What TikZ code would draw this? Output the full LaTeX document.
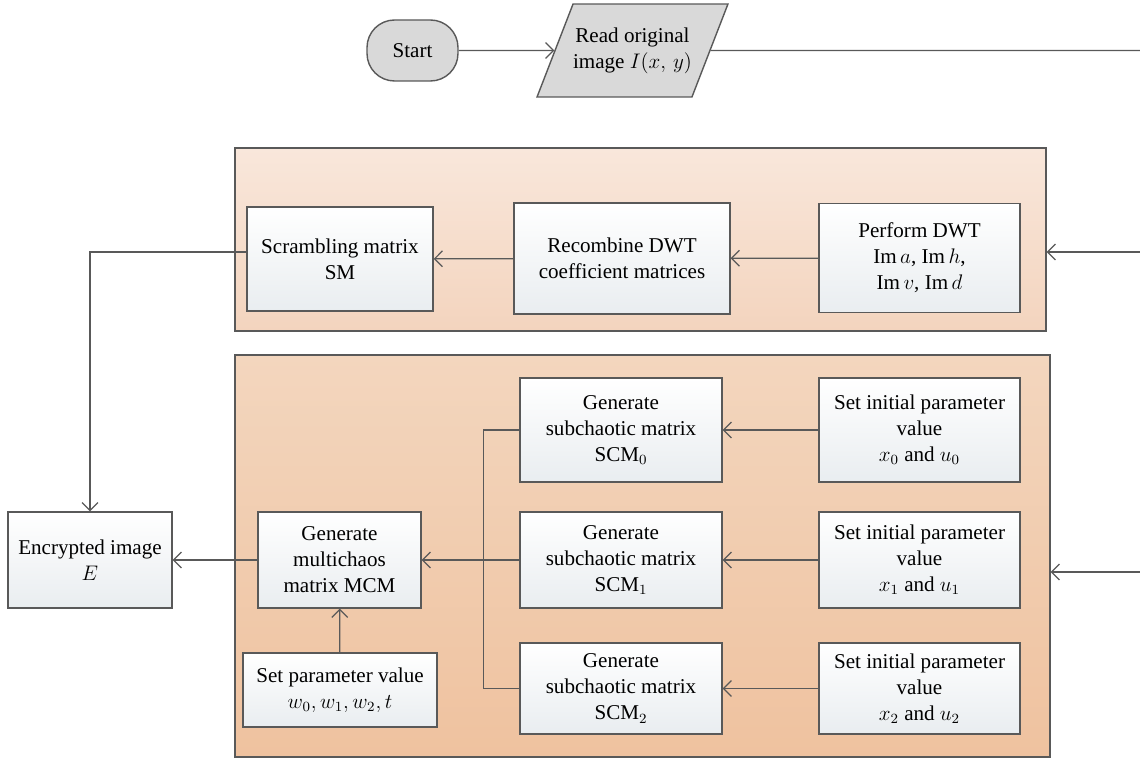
\documentclass[tikz,border=0pt]{standalone}
\usepackage{fontspec}
\setmainfont{Liberation Serif}
\usepackage{tikz}
\usepackage{xcolor}
\usetikzlibrary{shapes.geometric,arrows.meta}

\definecolor{linegray}{HTML}{595959}
\definecolor{boxlow}{HTML}{E9EDF0}
\definecolor{termgray}{HTML}{D9D9D9}
\definecolor{peachtop}{HTML}{F9E7DB}
\definecolor{peachlow}{HTML}{F3D4BE}
\definecolor{orangetop}{HTML}{F3D6BE}
\definecolor{orangelow}{HTML}{EFC29F}

\begin{document}
\begin{tikzpicture}[x=0.02cm, y=-0.02cm,
    font=\fontsize{12}{14.8}\selectfont,
    >={Straight Barb[length=4.5pt,width=9pt]},
    line_style/.style={draw=linegray, line width=0.7pt},
    box_style/.style={rectangle, draw=linegray, line width=0.8pt, align=center,
        top color=white, bottom color=boxlow, inner sep=2pt},
    panel_style/.style={rectangle, draw=linegray, line width=0.8pt},
    term_style/.style={rectangle, rounded corners=0.55cm, draw=linegray, line width=0.8pt,
        fill=termgray, minimum width=1.82cm, minimum height=1.22cm},
    io_style/.style={trapezium, trapezium left angle=58, trapezium right angle=122,
        trapezium stretches=true, draw=linegray, line width=0.8pt, fill=termgray, align=center,
        inner xsep=0pt, minimum width=3.5cm, minimum height=1.86cm}
]
    \useasboundingbox (0,0) rectangle (1140,759);

    % Start and input
    \node[term_style] (start) at (412.5,50.5) {Start};
    \node[io_style] (read) at (632.5,50.5) {Read original\\image $I(x,\,y)$};

    % Free ends at the right border
    \coordinate (edge_top) at (1140,50.5);
    \coordinate (edge_dwt) at (1140,252);
    \coordinate (edge_chaos) at (1140,572);

    % Panels
    \node[panel_style, top color=peachtop, bottom color=peachlow,
        minimum width=16.22cm, minimum height=3.66cm] (dwt_panel) at (640.5,239.5) {};
    \node[panel_style, top color=orangetop, bottom color=orangelow,
        minimum width=16.3cm, minimum height=8.04cm] (chaos_panel) at (642.5,556) {};

    % DWT branch
    \node[box_style, minimum width=3.72cm, minimum height=2.08cm] (scram) at (340,259) {Scrambling matrix\\SM};
    \node[box_style, minimum width=4.32cm, minimum height=2.22cm] (recomb) at (622,258.5) {Recombine DWT\\coefficient matrices};
    \node[box_style, minimum width=4.02cm, minimum height=2.18cm] (dwt) at (919.5,258) {Perform DWT\\$\mathrm{Im}\,a$, $\mathrm{Im}\,h$,\\$\mathrm{Im}\,v$, $\mathrm{Im}\,d$};

    % Chaos branch
    \node[box_style, minimum width=4.04cm, minimum height=2.08cm] (scm0) at (621,430) {Generate\\subchaotic matrix\\SCM$_0$};
    \node[box_style, minimum width=4.04cm, minimum height=1.92cm] (scm1) at (621,560) {Generate\\subchaotic matrix\\SCM$_1$};
    \node[box_style, minimum width=4.04cm, minimum height=1.82cm] (scm2) at (621,688.5) {Generate\\subchaotic matrix\\SCM$_2$};
    \node[box_style, minimum width=4.02cm, minimum height=2.08cm] (init0) at (919.5,430) {Set initial parameter\\value\\$x_0$ and $u_0$};
    \node[box_style, minimum width=4.02cm, minimum height=1.92cm] (init1) at (919.5,560) {Set initial parameter\\value\\$x_1$ and $u_1$};
    \node[box_style, minimum width=4.02cm, minimum height=1.82cm] (init2) at (919.5,688.5) {Set initial parameter\\value\\$x_2$ and $u_2$};
    \node[box_style, minimum width=3.26cm, minimum height=1.92cm] (mcm) at (339.5,560) {Generate\\multichaos\\matrix MCM};
    \node[box_style, minimum width=3.88cm, minimum height=1.48cm] (param) at (340,690) {Set parameter value\\$w_0, w_1, w_2, t$};

    % Output
    \node[box_style, minimum width=3.28cm, minimum height=1.92cm] (encrypt) at (90,560) {Encrypted image\\$E$};

    % Connectors
    \draw[line_style, ->] (start) -- (read);
    \draw[line_style] (read.east) -- (edge_top);
    \draw[line_style, ->] (edge_dwt) -- (edge_dwt -| dwt_panel.east);
    \draw[line_style, ->] (edge_chaos) -- (edge_chaos -| chaos_panel.east);
    \draw[line_style, ->] (dwt) -- (recomb);
    \draw[line_style, ->] (recomb) -- (scram);
    \draw[line_style, ->] ([yshift=0.14cm]scram.west) -| (encrypt.north);
    \foreach \i in {0,1,2} \draw[line_style, ->] (init\i) -- (scm\i);
    \draw[line_style] (scm0.west) -- ++(-0.72cm,0) |- (scm2.west);
    \draw[line_style, ->] (scm1.west) -- (mcm.east);
    \draw[line_style, ->] (param) -- (mcm);
    \draw[line_style, ->] (mcm) -- (encrypt);

\end{tikzpicture}
\end{document}
